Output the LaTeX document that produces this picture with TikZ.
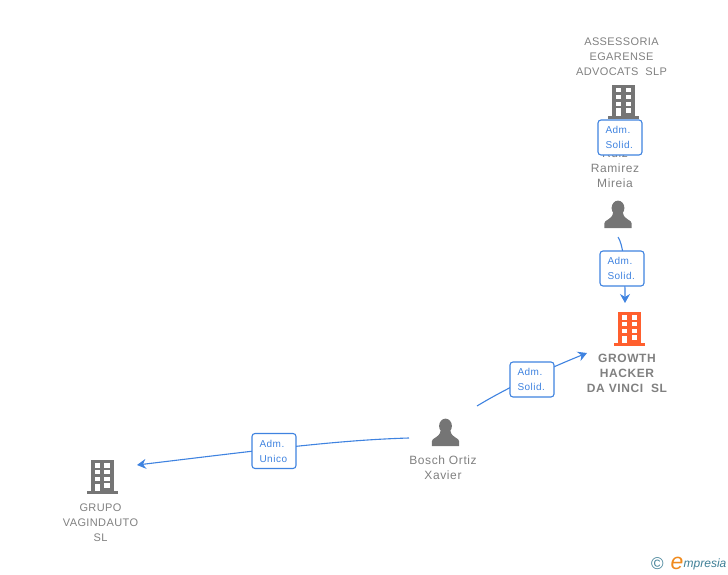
\documentclass[tikz,border=0pt]{standalone}
\usepackage{fontspec}
\setmainfont{Liberation Sans}
\usetikzlibrary{calc,positioning,arrows.meta}

\definecolor{linkblue}{HTML}{3F83E0}
\definecolor{labelgrey}{HTML}{808080}
\definecolor{icongrey}{HTML}{757575}
\definecolor{iconred}{HTML}{FF5F2E}
\definecolor{logoteal}{HTML}{3F7F96}
\definecolor{logoorange}{HTML}{F08A1D}

\tikzset{
  link/.style={draw=linkblue,line width=1.1pt,-{Stealth[length=9pt,width=10pt,inset=3pt]}},
  role/.style={rectangle,rounded corners=3pt,draw=linkblue,line width=1.1pt,fill=white,
    minimum width=44pt,minimum height=35pt,inner sep=0pt,text=linkblue,
    font=\fontsize{10}{15}\selectfont\addfontfeature{LetterSpace=5},align=left,text width=29pt},
  person name/.style={text=labelgrey,inner sep=0pt,align=center,
    font=\fontsize{12}{15}\selectfont\addfontfeature{LetterSpace=5}},
  firm name/.style={person name,font=\fontsize{11}{15}\selectfont\addfontfeature{LetterSpace=3.6}},
  company/.style={person name,font=\fontsize{12}{15}\selectfont\bfseries\addfontfeature{LetterSpace=5}},
  pics/building/.style={code={
    \fill[#1] (-11.5,-34) rectangle (11.5,-3);
    \fill[#1] (-15.5,-3) rectangle (15.5,0);
    \foreach \r in {0,1,2}
     {
       \fill[white] (-7.5,-31+6.8*\r) rectangle (-2.5,-26.5+6.8*\r);
       \fill[white] (2.2,-31+6.8*\r) rectangle (7.5,-26.5+6.8*\r);
     }
    \fill[white] (-7.5,-10.5) rectangle (-2.5,-3);
    \fill[white] (2.2,-11) rectangle (7.5,-6);
  }},
  pics/person/.style={code={
    \fill[icongrey] (0,-20) ellipse (6.4 and 7.4);
    \fill[icongrey] (-13.7,0) -- (-13.7,-4.5) .. controls (-13.7,-8.5) and (-6,-8) .. (-5,-15)
      -- (5,-15) .. controls (6,-8) and (13.7,-8.5) .. (13.7,-4.5) -- (13.7,0) -- cycle;
  }},
}

\begin{document}
\begin{tikzpicture}[x=1pt,y=-1pt]
  \useasboundingbox (0,0) rectangle (728,575);

  %connector ends
  \coordinate (ruiz_out) at (618,237);
  \coordinate (growth_top) at (625,303);
  \coordinate (bosch_right) at (477,406);
  \coordinate (growth_left) at (587,353);
  \coordinate (bosch_left) at (409,438);
  \coordinate (grupo_right) at (137,465);

  %connectors
  \draw[link] (ruiz_out) .. controls (623,245) and (625,262) .. (growth_top);
  \draw[link] (bosch_right) .. controls (510,386) and (550,368) .. (growth_left);
  \draw[link] (bosch_left) .. controls (340,440) and (270,449) .. (grupo_right);

  %icons
  \pic at (623.5,119) {building=icongrey};
  \pic at (629.5,346) {building=iconred};
  \pic at (102,494) {building=icongrey};
  \pic at (618,228) {person};
  \pic at (445.5,446) {person};

  %names
  \node (assessoria) [firm name] at (621.5,56.5) {ASSESSORIA\\EGARENSE\\ADVOCATS\ \ SLP};
  \node (ruiz) [person name] at (615,168) {Ruiz\\Ramirez\\Mireia};
  \node (growth) [company] at (627,373) {GROWTH\\HACKER\\DA VINCI\ \ SL};
  \node (bosch) [person name] at (443,467.5) {Bosch Ortiz\\Xavier};
  \node (grupo) [firm name] at (100.5,522.5) {GRUPO\\VAGINDAUTO\\SL};

  %roles
  \foreach \n/\x/\y/\t in {assessoria_role/620/137.5/Solid.,ruiz_role/622/268.5/Solid.,
    bosch_role/532/379.5/Solid.,grupo_role/274/451/Unico}
   {
     \node (\n) [role] at (\x,\y) {Adm.\\\t};
   }

  %logo
  \node (logo_c) [text=logoteal,inner sep=0pt,font=\fontsize{17}{17}\selectfont] at (657.5,564) {©};
  \node (logo_e) [text=logoorange,inner sep=0pt,font=\fontsize{23}{23}\selectfont\itshape] at (677,563.5) {e};
  \node (logo_text) [text=logoteal,inner sep=0pt,font=\fontsize{12}{12}\selectfont\itshape,anchor=west] at (683.5,564.5) {mpresia};
\end{tikzpicture}
\end{document}
